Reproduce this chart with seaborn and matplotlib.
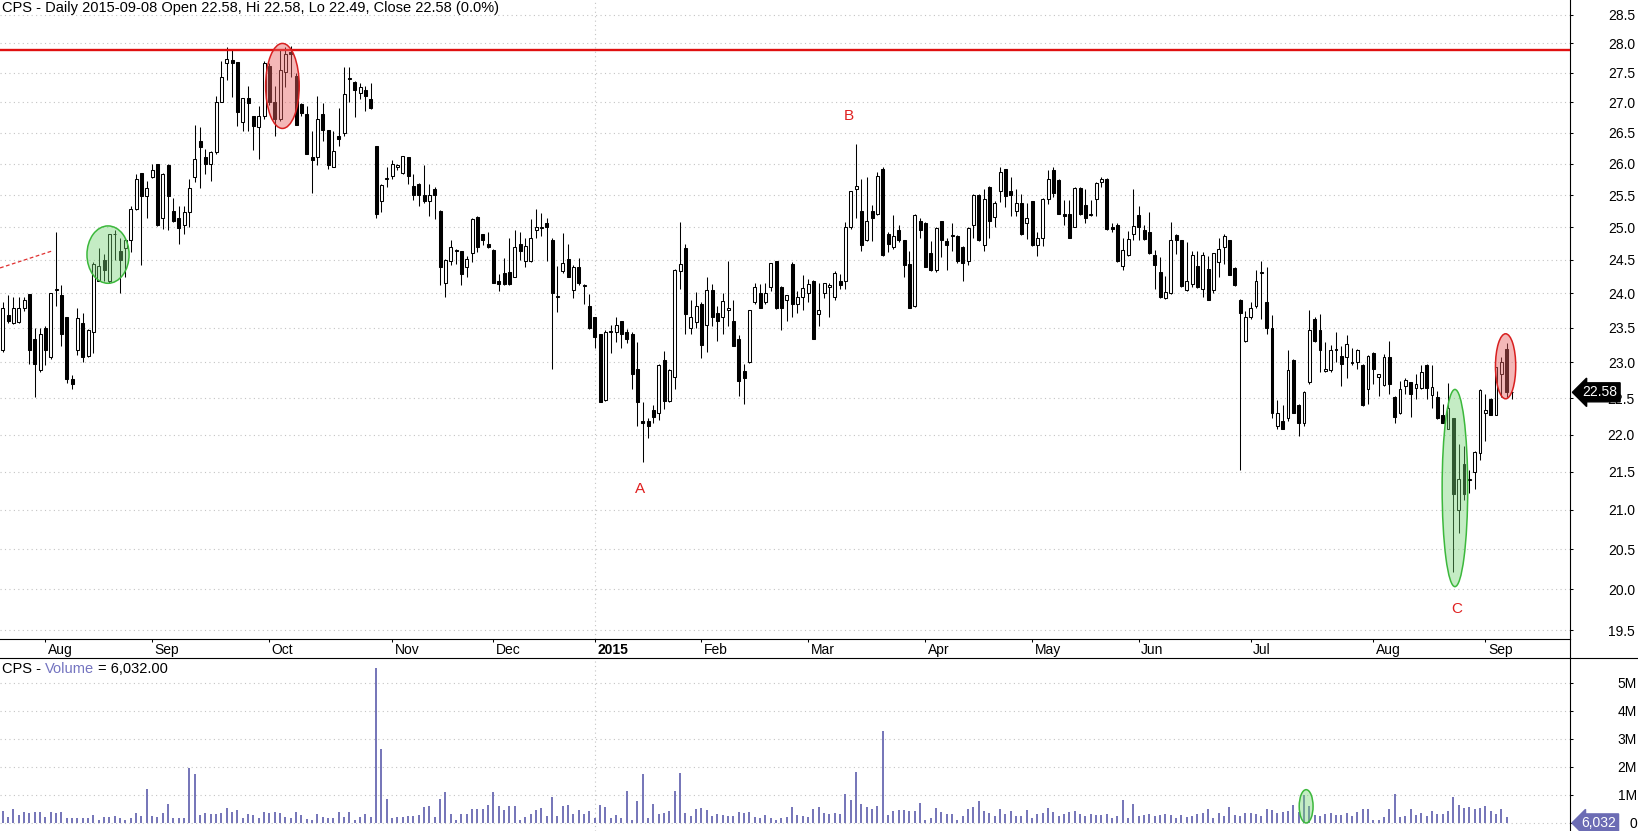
import numpy as np
import matplotlib
matplotlib.use("Agg")
import matplotlib.pyplot as plt
import seaborn as sns
from matplotlib.patches import Ellipse
from matplotlib.ticker import FixedLocator, FuncFormatter, NullLocator
from matplotlib.transforms import ScaledTranslation
from matplotlib.lines import Line2D

# ---------------- data ----------------
open_ = [23.18,23.68,23.56,23.58,23.79,23.99,23.33,22.89,23.50,23.07,
 24.05,23.97,23.66,22.77,23.18,23.56,23.09,23.44,24.19,24.50,
 24.19,24.89,24.63,24.68,24.80,25.29,25.85,25.48,25.78,26.00,
 25.15,25.98,25.25,25.14,25.04,25.23,25.78,26.36,26.11,25.99,
 26.19,27.01,27.66,27.71,27.68,26.67,27.08,26.77,26.59,26.77,
 27.62,27.01,26.72,27.51,27.86,27.45,26.97,26.80,26.11,26.11,
 26.80,26.54,25.95,26.45,26.50,27.39,27.35,27.16,27.21,27.05,
 26.29,25.41,25.75,25.81,25.94,25.85,26.10,25.65,25.68,25.50,
 25.41,25.60,25.25,24.15,24.49,24.63,24.63,24.39,24.60,25.16,
 24.89,24.75,24.65,24.19,24.31,24.32,24.25,24.75,24.49,24.48,
 24.95,24.99,25.06,24.81,23.94,24.34,24.51,24.05,24.40,24.11,
 23.81,23.65,23.40,22.48,23.43,23.43,23.59,23.43,23.40,22.90,
 22.19,22.19,22.33,22.30,23.04,22.46,22.80,24.34,24.68,23.50,
 23.58,23.84,23.54,24.05,23.71,23.65,23.75,23.59,23.33,22.88,
 23.00,23.88,24.00,23.88,24.09,24.48,24.10,23.91,24.44,23.85,
 23.94,24.00,24.19,23.69,24.00,24.10,23.94,24.19,24.19,25.01,
 25.59,25.25,24.80,25.25,25.20,25.91,24.89,24.69,24.95,24.80,
 24.44,23.81,25.09,25.07,24.61,24.35,25.09,24.79,24.86,24.87,
 24.70,24.49,25.03,25.50,24.72,25.62,25.16,25.56,25.91,25.56,
 25.25,25.37,25.06,25.40,24.72,24.83,25.44,25.90,25.74,25.20,
 25.20,25.01,25.61,25.34,25.19,25.44,25.71,25.76,25.01,25.04,
 24.41,24.57,24.89,25.19,24.95,24.92,24.57,24.32,23.93,24.00,
 24.88,24.80,24.05,24.14,24.41,24.06,24.37,24.05,24.47,24.70,
 24.80,24.38,23.91,23.30,23.66,23.81,24.30,23.88,23.50,22.12,
 22.19,22.23,23.04,22.41,22.16,22.73,23.63,23.47,22.88,22.89,
 23.17,23.09,23.07,22.99,23.00,22.97,22.62,23.14,22.80,22.68,
 23.07,22.52,22.29,22.67,22.72,22.64,22.64,22.97,22.54,22.51,
 22.26,22.08,22.22,21.00,21.61,21.39,21.50,21.75,22.30,22.49,
 22.27,22.83,23.19,22.58]
high = [23.88,23.97,23.94,23.94,23.95,23.99,23.50,23.50,23.52,24.01,
 24.93,24.13,23.66,22.82,23.79,23.71,23.48,24.47,24.68,24.59,
 24.90,24.95,24.83,24.83,25.33,25.83,25.85,25.73,25.99,26.00,
 25.85,25.99,25.45,25.33,25.33,25.76,26.63,26.59,26.24,26.21,
 27.11,27.69,27.93,27.90,27.68,27.08,27.28,26.78,26.94,27.69,
 27.67,27.28,27.90,27.93,27.95,27.49,26.99,26.94,26.53,27.10,
 26.99,26.55,26.53,26.90,27.59,27.59,27.36,27.32,27.28,27.33,
 26.29,25.67,25.94,26.05,26.00,26.13,26.11,25.84,25.69,25.98,
 25.67,25.63,25.26,24.51,24.81,24.66,24.64,24.56,25.15,25.17,
 24.90,24.93,24.66,24.29,24.53,24.83,24.96,24.93,24.83,25.13,
 25.28,25.22,25.15,24.84,24.41,24.91,24.74,24.42,24.53,24.14,
 23.99,23.66,23.41,23.47,23.53,23.66,23.60,23.48,23.43,23.29,
 22.45,22.22,22.41,22.98,23.16,22.90,24.36,25.08,24.74,23.91,
 24.02,23.88,24.24,24.14,23.82,24.00,24.48,23.90,23.39,22.98,
 23.76,24.16,24.14,24.16,24.46,24.49,24.11,23.98,24.47,24.03,
 24.28,24.21,24.20,24.15,24.16,24.15,24.34,24.29,25.08,25.57,
 26.32,25.75,25.79,25.34,25.86,25.94,24.92,25.19,25.04,24.81,
 24.64,25.20,25.15,25.08,24.79,25.00,25.10,24.83,25.07,24.88,
 24.71,25.00,25.51,25.51,25.59,25.65,25.40,25.94,25.92,25.79,
 25.59,25.51,25.37,25.41,24.93,25.45,25.89,25.95,25.75,25.42,
 25.42,25.62,25.62,25.59,25.43,25.70,25.79,25.77,25.07,25.06,
 24.83,24.94,25.59,25.33,25.04,25.24,24.65,24.54,24.26,25.08,
 24.89,24.81,24.78,24.64,24.64,24.62,24.56,24.61,24.84,24.89,
 24.81,24.39,23.92,23.74,23.87,24.35,24.48,24.40,23.68,22.47,
 22.41,23.18,23.05,22.42,22.60,23.76,23.65,23.69,23.29,23.25,
 23.43,23.24,23.39,23.21,23.19,22.98,23.10,23.15,22.84,23.12,
 23.30,22.53,22.74,22.78,22.73,22.83,22.97,22.98,22.97,22.60,
 22.42,22.71,22.23,21.87,21.84,21.53,21.78,22.62,22.56,22.50,
 22.94,23.07,23.27,22.58]
low = [23.15,23.56,23.55,23.56,23.74,22.98,22.52,22.87,22.97,23.05,
 23.82,23.24,22.71,22.63,23.10,23.01,23.07,23.13,24.18,24.18,
 24.16,24.50,24.01,24.24,24.62,25.26,24.42,25.14,25.77,25.02,
 24.98,24.96,25.08,24.74,24.90,25.00,25.70,25.61,25.83,25.72,
 26.16,27.00,27.38,27.09,26.61,26.53,26.53,26.22,26.08,26.72,
 26.96,26.44,26.70,27.25,27.42,26.62,26.78,26.15,25.53,25.98,
 26.37,25.92,25.94,26.29,26.44,27.01,26.75,27.05,26.86,26.89,
 25.14,25.24,25.62,25.75,25.89,25.83,25.67,25.42,25.33,25.38,
 25.17,25.12,24.13,23.95,24.42,24.44,24.12,24.24,24.47,24.62,
 24.72,24.68,24.15,24.03,24.13,24.12,24.24,24.50,24.39,24.47,
 24.83,24.87,24.49,22.90,23.72,24.31,24.24,23.93,24.13,23.85,
 23.48,23.20,22.44,22.46,23.13,23.29,23.20,23.27,22.62,22.11,
 21.63,21.95,22.16,22.20,22.35,22.45,22.63,24.06,23.41,23.41,
 23.50,23.06,23.15,23.52,23.31,23.41,23.52,23.23,22.53,22.42,
 22.99,23.84,23.78,23.84,24.03,23.77,23.47,23.60,23.66,23.71,
 23.76,23.87,23.33,23.52,23.93,23.66,23.90,24.06,24.06,24.98,
 25.14,24.64,24.79,24.79,25.19,24.56,24.62,24.67,24.77,24.25,
 23.78,23.80,24.84,24.39,24.33,24.32,24.54,24.35,24.64,24.46,
 24.18,24.43,24.83,24.79,24.63,24.83,25.00,25.39,25.31,25.17,
 25.17,24.88,24.82,24.71,24.56,24.71,25.36,25.47,25.20,25.04,
 24.83,25.00,25.19,25.07,25.18,25.17,25.63,24.96,24.92,24.47,
 24.35,24.56,24.80,24.80,24.80,24.59,24.06,23.93,23.92,23.99,
 24.59,24.10,24.03,24.09,24.08,23.94,23.90,24.01,24.25,24.44,
 24.27,24.11,21.53,23.29,23.62,23.79,23.62,23.41,22.22,22.07,
 22.07,22.19,22.29,21.98,22.11,22.69,23.29,22.87,22.87,22.87,
 23.00,22.67,22.78,22.96,22.90,22.39,22.42,22.69,22.53,22.67,
 22.55,22.16,22.28,22.56,22.24,22.49,22.63,22.49,22.36,22.21,
 22.15,22.07,20.21,20.70,21.13,21.22,21.27,21.66,21.91,22.26,
 22.26,22.52,22.52,22.49]
close = [23.79,23.59,23.79,23.79,23.90,23.18,22.98,23.40,23.17,24.00,
 24.07,23.40,22.76,22.69,23.64,23.08,23.47,24.44,24.41,24.35,
 24.89,24.90,24.50,24.80,25.29,25.76,25.48,25.61,25.90,25.03,
 25.84,25.48,25.09,24.99,25.23,25.61,26.08,26.26,25.99,26.18,
 27.01,27.43,27.73,27.66,26.84,27.08,26.99,26.61,26.77,27.67,
 27.01,26.72,27.54,27.81,27.81,26.63,26.82,26.16,26.06,26.73,
 26.54,25.98,26.21,26.40,27.14,27.41,27.20,27.25,27.11,26.90,
 25.20,25.66,25.77,26.00,25.98,26.12,25.81,25.50,25.50,25.40,
 25.50,25.50,24.40,24.50,24.70,24.65,24.29,24.51,25.13,24.69,
 24.80,24.69,24.16,24.14,24.14,24.14,24.69,24.64,24.71,24.84,
 25.00,25.00,25.00,24.00,23.96,24.45,24.25,24.40,24.15,24.13,
 23.49,23.37,22.45,23.44,23.45,23.54,23.40,23.34,22.84,22.45,
 22.15,22.12,22.24,22.97,22.46,22.89,24.35,24.44,23.69,23.65,
 23.82,23.25,24.05,23.66,23.59,23.89,23.79,23.24,22.74,22.78,
 23.75,24.09,23.79,24.00,24.45,23.78,23.79,23.97,23.85,23.94,
 24.08,24.14,23.34,23.75,24.15,24.12,24.31,24.12,25.01,25.56,
 25.65,24.72,25.09,25.15,25.81,24.57,24.75,24.87,24.80,24.43,
 23.79,25.19,24.95,24.40,24.35,24.99,24.80,24.72,24.88,24.49,
 24.45,24.99,25.50,24.80,25.44,25.09,25.38,25.86,25.49,25.50,
 25.37,24.89,25.14,24.72,24.83,25.44,25.76,25.54,25.21,25.17,
 24.84,25.61,25.20,25.15,25.21,25.69,25.76,24.97,24.98,24.48,
 24.65,24.82,25.02,25.00,24.82,24.60,24.43,23.94,24.02,24.80,
 24.80,24.11,24.18,24.57,24.09,24.57,23.91,24.60,24.66,24.87,
 24.28,24.12,23.71,23.65,23.79,24.19,24.32,23.50,22.29,22.30,
 22.08,22.89,22.30,22.15,22.59,23.47,23.31,23.18,22.90,23.18,
 23.19,22.98,23.26,23.01,23.18,22.40,23.09,22.90,22.83,23.07,
 22.69,22.24,22.62,22.75,22.55,22.69,22.86,22.64,22.65,22.22,
 22.16,22.36,21.21,21.41,21.21,21.41,21.77,22.61,22.34,22.27,
 22.93,23.00,22.58,22.58]
volume_m = [0.44,0.20,0.51,0.27,0.38,0.35,0.40,0.40,0.23,0.40,
 0.35,0.38,0.19,0.17,0.19,0.17,0.17,0.30,0.11,0.23,
 0.23,0.26,0.19,0.12,0.19,0.37,0.24,1.23,0.26,0.23,
 0.37,0.69,0.19,0.17,0.17,1.98,1.76,0.30,0.37,0.31,
 0.33,0.37,0.55,0.40,0.48,0.17,0.31,0.29,0.19,0.40,
 0.35,0.40,0.35,0.21,0.19,0.40,0.30,0.13,0.11,0.31,
 0.23,0.19,0.19,0.40,0.23,0.40,0.12,0.20,0.31,0.20,
 5.55,2.64,0.87,0.17,0.23,0.20,0.26,0.24,0.30,0.56,
 0.62,0.20,0.87,1.11,0.33,0.12,0.33,0.33,0.51,0.51,
 0.51,0.65,1.11,0.62,0.45,0.62,0.62,0.12,0.23,0.33,
 0.48,0.55,0.26,0.94,0.26,0.62,0.65,0.33,0.48,0.33,
 0.44,0.17,0.65,0.58,0.19,0.30,0.17,1.15,0.12,0.80,
 1.76,0.17,0.69,0.33,0.37,0.44,1.15,1.79,0.37,0.26,
 0.51,0.55,0.48,0.26,0.33,0.30,0.26,0.26,0.40,0.37,
 0.40,0.23,0.19,0.30,0.17,0.12,0.19,0.20,0.58,0.30,
 0.24,0.23,0.51,0.58,0.36,0.33,0.37,0.33,1.05,0.83,
 1.81,0.69,0.58,0.51,0.62,3.30,0.30,0.44,0.48,0.48,
 0.44,0.44,0.73,0.12,0.19,0.55,0.40,0.33,0.33,0.12,
 0.26,0.51,0.58,0.80,0.44,0.37,0.26,0.51,0.33,0.44,
 0.26,0.26,0.48,0.19,0.33,0.37,0.55,0.40,0.26,0.33,
 0.40,0.44,0.33,0.26,0.33,0.30,0.30,0.33,0.19,0.26,
 0.83,0.19,0.69,0.26,0.30,0.33,0.26,0.30,0.33,0.30,
 0.19,0.30,0.23,0.26,0.33,0.37,0.51,0.19,0.37,0.26,
 0.58,0.30,0.26,0.37,0.37,0.33,0.24,0.51,0.48,0.37,
 0.40,0.44,0.65,0.40,1.01,0.62,0.30,0.26,0.33,0.37,
 0.30,0.30,0.37,0.26,0.40,0.51,0.51,0.12,0.12,0.23,
 0.51,1.05,0.20,0.24,0.51,0.30,0.37,0.26,0.44,0.31,
 0.33,0.44,0.94,0.65,0.55,0.58,0.51,0.55,0.62,0.44,
 0.33,0.51,0.23,0.006032]
month_labels = ["Aug", "Sep", "Oct", "Nov", "Dec", "2015", "Feb", "Mar",
                "Apr", "May", "Jun", "Jul", "Aug", "Sep"]
month_first_bar = [8, 28, 50, 73, 92, 111, 131, 151, 173, 193, 213, 234, 257, 278]
price_ticks = [19.5, 20.0, 20.5, 21.0, 21.5, 22.0, 22.5, 23.0, 23.5, 24.0,
               24.5, 25.0, 25.5, 26.0, 26.5, 27.0, 27.5, 28.0, 28.5]
volume_ticks = [0, 1, 2, 3, 4, 5]
resistance = 27.88
trend_x = [-0.5, 9.4]
trend_y = [24.38, 24.64]
point_labels = ["A", "B", "C"]
point_x = [119.5, 158.6, 272.6]
point_y = [21.27, 26.78, 19.76]
header = "CPS - Daily 2015-09-08 Open 22.58, Hi 22.58, Lo 22.49, Close 22.58 (0.0%)"

# ---------------- figure ----------------
sns.set_style("white")
plt.rcParams["font.family"] = ["Liberation Sans", "DejaVu Sans"]
plt.rcParams["font.size"] = 10

W, H = 1638, 831
fig = plt.figure(figsize=(W / 100, H / 100), dpi=100)
fig.patch.set_facecolor("white")
SP = 1569.6  # right spine x (px)
price_bot = 639.3
vol_top = 658.3
ax = fig.add_axes([0, 1 - price_bot / H, SP / W, price_bot / H])
axv = fig.add_axes([0, 0, SP / W, (H - vol_top) / H], sharex=ax)

o = np.array(open_); h = np.array(high); l = np.array(low); c = np.array(close)
v = np.array(volume_m)
idx = np.arange(len(c))

GRID = dict(color="#c4c4c4", lw=0.8, ls=(0, (1, 3)), zorder=0)

# price panel
ax.set_yscale("log")
ax.set_xlim(-0.506, 293.8)
ax.set_ylim(19.39, 28.76)
for p in price_ticks:
    ax.axhline(p, **GRID)
ax.axvline(111, **GRID)

ax.vlines(idx, l, h, color="black", lw=0.75, zorder=2)
bot = np.minimum(o, c)
top = np.maximum(o, c)
hgt = np.maximum(top - bot, 0.004)
up = c >= o
ax.bar(idx, hgt, bottom=bot, width=0.56,
       color=np.where(up, "white", "black"), edgecolor="black",
       linewidth=0.75, zorder=3)

ax.axhline(resistance, color="#e01010", lw=1.7, zorder=4)
sns.lineplot(x=trend_x, y=trend_y, ax=ax, color="#e03030", lw=0.9,
             linestyle=(0, (3, 2)), zorder=4)

def ellipse(axx, x0, x1, y0, y1, fc, ec):
    inv = axx.transAxes.inverted()
    a0 = inv.transform(axx.transData.transform((x0, y0)))
    a1 = inv.transform(axx.transData.transform((x1, y1)))
    e = Ellipse(((a0[0] + a1[0]) / 2, (a0[1] + a1[1]) / 2),
                abs(a1[0] - a0[0]), abs(a1[1] - a0[1]),
                transform=axx.transAxes, facecolor=fc, edgecolor=ec,
                lw=1.1, zorder=5)
    axx.add_patch(e)

GF = (0.45, 0.83, 0.45, 0.42); GE = "#3cb83c"
RF = (0.91, 0.38, 0.38, 0.45); RE = "#d82020"
ellipse(ax, 15.8, 23.7, 24.15, 25.02, GF, GE)
ellipse(ax, 49.3, 55.6, 26.57, 28.0, RF, RE)
ellipse(ax, 269.9, 274.7, 20.03, 22.62, GF, GE)
ellipse(ax, 279.9, 283.7, 22.49, 23.41, RF, RE)

for t, x, y in zip(point_labels, point_x, point_y):
    ax.text(x, y, t, color="#e02020", ha="center", va="center", fontsize=11, zorder=6)

for side in ["top", "left"]:
    ax.spines[side].set_visible(False)
for side in ["right", "bottom"]:
    ax.spines[side].set_color("black")
    ax.spines[side].set_linewidth(0.8)

ax.yaxis.tick_right()
ax.yaxis.set_major_locator(FixedLocator(price_ticks))
ax.yaxis.set_minor_locator(NullLocator())
ax.yaxis.set_major_formatter(FuncFormatter(lambda val, pos: f"{val:.1f}"))
ax.tick_params(axis="y", which="major", direction="out", length=2.5, width=0.75,
               pad=44.5, labelsize=10, colors="black", left=False, right=True)
for t in ax.get_yticklabels():
    t.set_horizontalalignment("right")

ax.set_xticks(month_first_bar)
ax.set_xticklabels(month_labels)
ax.tick_params(axis="x", direction="out", length=2.3, width=0.75, pad=0.5,
               labelsize=10, colors="black", bottom=True)
off = ScaledTranslation(2.5 / 100, 0, fig.dpi_scale_trans)
for t in ax.get_xticklabels():
    t.set_horizontalalignment("left")
    t.set_transform(t.get_transform() + off)
    if t.get_text() == "2015":
        t.set_fontweight("bold")

fig.text(2 / W, 1 - 1 / H, header, ha="left", va="top", fontsize=10.5, color="black")

ax.annotate(f"{c[-1]:.2f}", xy=(1, c[-1]), xycoords=("axes fraction", "data"),
            xytext=(13, 0), textcoords="offset pixels", ha="left", va="center",
            color="white", fontsize=10, zorder=10,
            bbox=dict(boxstyle="larrow,pad=0.18", fc="black", ec="black"))

# volume panel
VC = "#7474b8"
axv.set_ylim(-0.286, 5.88)
for vv in volume_ticks:
    axv.axhline(vv, **GRID)
axv.axvline(111, **GRID)
axv.vlines(idx, 0, v, color=VC, lw=1.4, zorder=2)
ellipse(axv, 243.1, 245.7, 0.0, 1.19, GF, GE)

for side in ["bottom", "left"]:
    axv.spines[side].set_visible(False)
for side in ["top", "right"]:
    axv.spines[side].set_color("black")
    axv.spines[side].set_linewidth(0.8)
axv.tick_params(axis="x", bottom=False, labelbottom=False)
axv.yaxis.tick_right()
axv.yaxis.set_major_locator(FixedLocator(volume_ticks))
axv.yaxis.set_minor_locator(NullLocator())
axv.yaxis.set_major_formatter(FuncFormatter(lambda val, pos: "0" if val == 0 else f"{int(val)}M"))
axv.tick_params(axis="y", which="major", direction="out", length=2.5, width=0.75,
                pad=46, labelsize=10, colors="black", left=False, right=True)
for t in axv.get_yticklabels():
    t.set_horizontalalignment("right")

t1 = axv.text(2 / SP, (H - 669) / (H - vol_top), "CPS -", transform=axv.transAxes,
              ha="left", va="center", fontsize=10.5, color="black")
t2 = axv.annotate("Volume", xy=(1, 0.5), xycoords=t1, xytext=(4, 0),
                  textcoords="offset pixels", ha="left", va="center",
                  fontsize=10.5, color="#7474c0")
axv.annotate(f"= {v[-1]*1e6:,.2f}", xy=(1, 0.5), xycoords=t2, xytext=(4, 0),
             textcoords="offset pixels", ha="left", va="center",
             fontsize=10.5, color="black")

axv.annotate(f"{v[-1]*1e6:,.0f}", xy=(1, 0), xycoords=("axes fraction", "data"),
             xytext=(12, 0), textcoords="offset pixels", ha="left", va="center",
             color="white", fontsize=10, zorder=10,
             bbox=dict(boxstyle="larrow,pad=0.15", fc="#6c6cb4", ec="#6c6cb4"))

# separators through the date strip
fig.add_artist(Line2D([SP / W, SP / W], [1 - price_bot / H, 1 - vol_top / H],
                      transform=fig.transFigure, color="black", lw=0.8))
fig.add_artist(Line2D([SP / W, 1], [1 - vol_top / H, 1 - vol_top / H],
                      transform=fig.transFigure, color="black", lw=0.8))

fig.savefig("out.png", dpi=100, facecolor="white")
